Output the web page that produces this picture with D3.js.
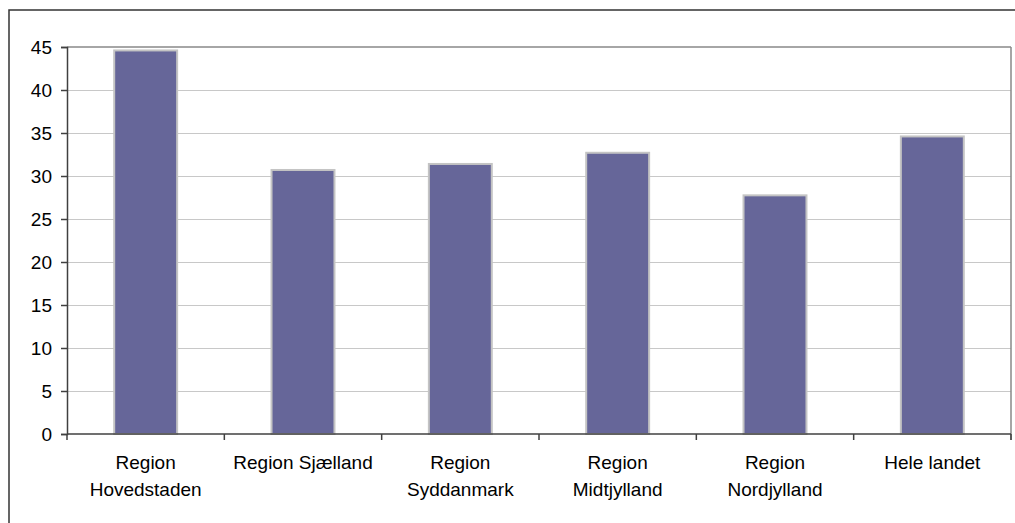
<!DOCTYPE html>
<html><head><meta charset="utf-8">
<script src="https://cdn.jsdelivr.net/npm/d3@7"></script>
<style>
html,body{margin:0;padding:0;background:#fff;}
svg{display:block;font-family:"Liberation Sans",Arial,sans-serif;}
</style></head>
<body><svg id="c" width="1015" height="523"></svg>
<script>
const categories = ["Region Hovedstaden","Region Sjælland","Region Syddanmark","Region Midtjylland","Region Nordjylland","Hele landet"];
const categoryLabels = [["Region","Hovedstaden"],["Region Sjælland"],["Region","Syddanmark"],["Region","Midtjylland"],["Region","Nordjylland"],["Hele landet"]];
const values = [44.6, 30.7, 31.4, 32.7, 27.75, 34.6];
const yTicks = [0,5,10,15,20,25,30,35,40,45];

(function(){
const svg = d3.select("#c");
const pL = 67, pR = 1011, pT = 47, pB = 434;

// outer chart border
svg.append("rect").attr("x",9).attr("y",10).attr("width",1015).attr("height",530)
  .attr("fill","none").attr("stroke","#333").attr("stroke-width",1.5);

const x = d3.scaleBand().domain(categories).range([pL,pR]).paddingInner(0.6).paddingOuter(0.3);
const xb = d3.scaleBand().domain(categories).range([pL,pR]);
const y = d3.scaleLinear().domain([0,45]).range([pB,pT]);

// gridlines
svg.append("g").selectAll("line").data(yTicks.filter(t=>t>0 && t<45)).join("line")
  .attr("x1",pL).attr("x2",pR).attr("y1",d=>y(d)).attr("y2",d=>y(d))
  .attr("stroke","#c8c8c8").attr("stroke-width",1).attr("shape-rendering","crispEdges");
// plot area top/right border
svg.append("line").attr("x1",pL).attr("x2",pR).attr("y1",y(45)).attr("y2",y(45))
  .attr("stroke","#888").attr("stroke-width",1.5);
svg.append("line").attr("x1",pR).attr("x2",pR).attr("y1",y(45)).attr("y2",pB+6)
  .attr("stroke","#888").attr("stroke-width",1.5);

// bars
svg.append("g").selectAll("rect").data(values).join("rect")
  .attr("x",(d,i)=>x(categories[i])).attr("width",x.bandwidth())
  .attr("y",d=>y(d)).attr("height",d=>pB-y(d))
  .attr("fill","#666699").attr("stroke","#c4c4c4").attr("stroke-width",2);

// y axis
const ya = svg.append("g").attr("transform",`translate(${pL},0)`)
  .call(d3.axisLeft(y).tickValues(yTicks).tickSize(6).tickPadding(9).tickFormat(d3.format("d")));
ya.select(".domain").attr("stroke","#404040").attr("stroke-width",1.5);
ya.selectAll(".tick line").attr("stroke","#404040").attr("stroke-width",1.5);
ya.selectAll("text").attr("font-size",19).attr("fill","#000").attr("font-family","Liberation Sans, Arial, sans-serif");

// x axis line and ticks at category boundaries
svg.append("line").attr("x1",pL).attr("x2",pR).attr("y1",pB).attr("y2",pB)
  .attr("stroke","#404040").attr("stroke-width",1.5);
const bounds = categories.map(c=>xb(c)).concat([pR]);
svg.append("g").selectAll("line").data(bounds).join("line")
  .attr("x1",d=>d).attr("x2",d=>d).attr("y1",pB).attr("y2",pB+6)
  .attr("stroke","#404040").attr("stroke-width",1.5);

// category labels
const lab = svg.append("g").selectAll("text").data(categoryLabels).join("text")
  .attr("text-anchor","middle").attr("font-size",19).attr("fill","#000")
  .attr("x",(d,i)=>x(categories[i])+x.bandwidth()/2).attr("y",469);
lab.selectAll("tspan").data(d=>d).join("tspan")
  .attr("x",function(){return this.parentNode.getAttribute("x");})
  .attr("dy",(d,i)=>i===0?0:27).text(d=>d);
})();
</script></body></html>
